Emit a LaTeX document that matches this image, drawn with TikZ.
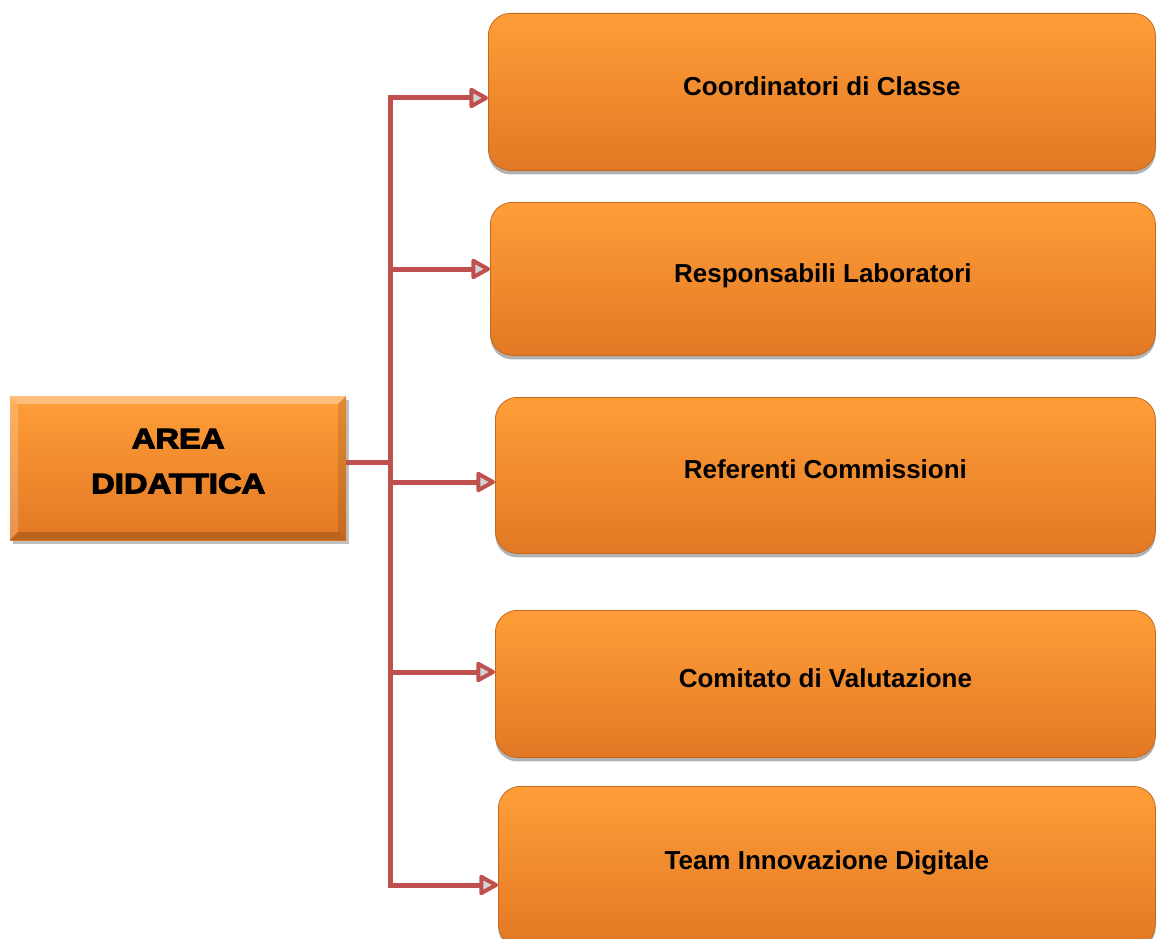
\documentclass[tikz,border=0pt]{standalone}
\usepackage{fontspec}
\setmainfont{Liberation Sans}
\newfontfamily\blackfont[FakeStretch=1.17, BoldFeatures={FakeBold=4}]{Liberation Sans}
\usetikzlibrary{arrows.meta,shadows,calc}
\definecolor{otop}{RGB}{255,158,56}
\definecolor{obot}{RGB}{226,120,36}
\definecolor{oedge}{RGB}{196,104,30}
\definecolor{conn}{RGB}{192,80,77}
\tikzset{
  box/.style={rounded corners=22pt, top color=otop, bottom color=obot, draw=oedge, line width=0.8pt,
    drop shadow={shadow xshift=0pt, shadow yshift=-4pt, opacity=0.3, fill=black},
    anchor=north west, font=\bfseries\fontsize{26}{30}\selectfont, inner sep=0pt,
    text height=18pt, text depth=11pt},
  conn/.style={draw=conn, line width=5pt},
  arr/.style={conn, -{Triangle[length=21pt, width=22pt, line width=4pt, fill=gray!35, round]}}
}
\begin{document}
\begin{tikzpicture}[x=1pt,y=-1pt]
\useasboundingbox (0,0) rectangle (1157,939);
\fill[white] (0,0) rectangle (1157,939);
% left bevel box
\fill[black,opacity=0.25] (13,400) rectangle (349,544);
\shade[top color=otop, bottom color=obot] (10,396) rectangle (346,540);
\fill[white,opacity=0.35] (10,396) -- (346,396) -- (338,404) -- (18,404) -- cycle;
\fill[white,opacity=0.2] (10,396) -- (18,404) -- (18,532) -- (10,540) -- cycle;
\fill[black,opacity=0.18] (10,540) -- (346,540) -- (338,532) -- (18,532) -- cycle;
\fill[black,opacity=0.12] (346,396) -- (346,540) -- (338,532) -- (338,404) -- cycle;
\node[inner sep=0pt, minimum width=336pt, minimum height=130pt, anchor=north west, align=center,
  font=\blackfont\bfseries\fontsize{28}{45}\selectfont] (main) at (10,396) {AREA\\DIDATTICA};
% right boxes
\node[box, minimum width=667pt, minimum height=157pt] (b1) at (488,13) {Coordinatori di Classe};
\node[box, minimum width=665pt, minimum height=153pt] (b2) at (490,202) {Responsabili Laboratori};
\node[box, minimum width=660pt, minimum height=156pt] (b3) at (495,397) {Referenti Commissioni};
\node[box, minimum width=660pt, minimum height=147pt] (b4) at (495,610) {Comitato di Valutazione};
\node[box, minimum width=657pt, minimum height=160pt] (b5) at (498,786) {Team Innovazione Digitale};
% connectors
\coordinate (t1) at (390,98);
\coordinate (t2) at (390,269);
\coordinate (t3) at (390,482);
\coordinate (t4) at (390,672);
\coordinate (t5) at (390,885);
\coordinate (tm) at (390,462);
\draw[conn] (346,462) -- (tm);
\draw[conn, line cap=butt] ($(t1)+(0,-2.5)$) -- ($(t5)+(0,2.5)$);
\draw[arr] ($(t1)+(-2.5,0)$) -- (t1 -| b1.west);
\draw[arr] (t2) -- (t2 -| b2.west);
\draw[arr] (t3) -- (t3 -| b3.west);
\draw[arr] (t4) -- (t4 -| b4.west);
\draw[arr] ($(t5)+(-2.5,0)$) -- (t5 -| b5.west);
\end{tikzpicture}
\end{document}
